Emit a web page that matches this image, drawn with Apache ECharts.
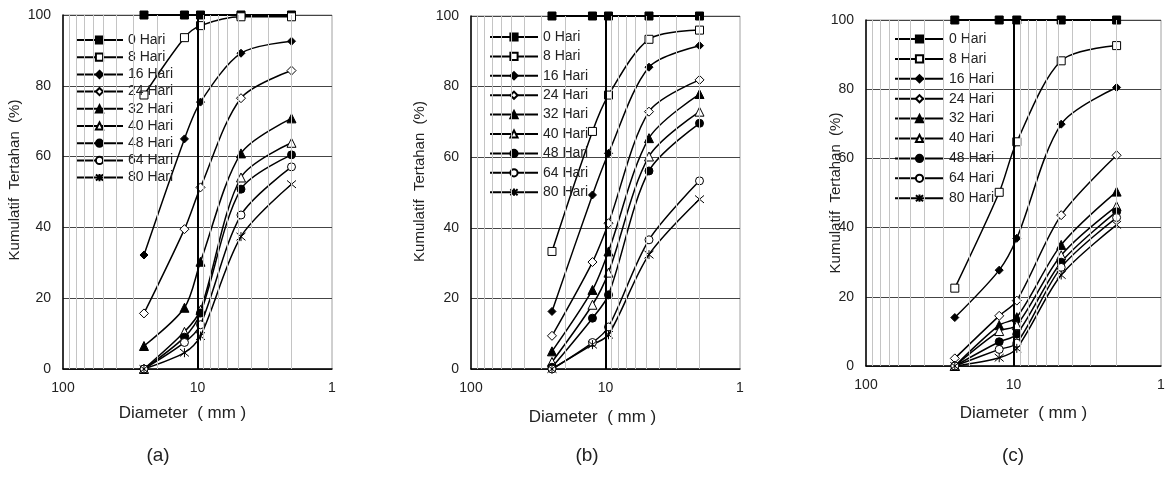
<!DOCTYPE html>
<html>
<head>
<meta charset="utf-8">
<script src="https://cdn.jsdelivr.net/npm/echarts@6/dist/echarts.min.js"></script>
<style>
  html, body { margin: 0; padding: 0; background: #fff; }
  #chart { width: 1173px; height: 485px; }
</style>
</head>
<body>
<div id="chart"></div>
<script>
// sieve sizes (mm), same for all three panels
const sieveSizes = [25, 12.5, 9.5, 4.75, 2];
const hariLabels = ['0 Hari', '8 Hari', '16 Hari', '24 Hari', '32 Hari', '40 Hari', '48 Hari', '64 Hari', '80 Hari'];
const panelLabels = ['(a)', '(b)', '(c)'];
const xTickLabels = [1, 10, 100];
const minorGridValues = [2, 3, 4, 5, 6, 7, 8, 9, 20, 30, 40, 50, 60, 70, 80, 90];

// kumulatif tertahan (%) per hari, one row per series
const retainedA = [
    [100, 100, 100, 100, 100],
    [77.4, 93.6, 97, 99.5, 99.5],
    [32.2, 65, 75.4, 89.2, 92.6],
    [15.7, 39.5, 51.3, 76.5, 84.3],
    [6.5, 17.3, 30.3, 60.9, 70.8],
    [0, 10.5, 16.7, 54.1, 63.9],
    [0, 9, 15.8, 50.8, 60.5],
    [0, 7.5, 12.5, 43.5, 57.1],
    [0, 4.6, 9.3, 37.4, 52.2]
];
const retainedB = [
    [100, 100, 100, 100, 100],
    [33.3, 67.3, 77.6, 93.4, 96],
    [16.3, 49.3, 61.1, 85.5, 91.6],
    [9.4, 30.3, 41.3, 72.9, 81.9],
    [5, 22.4, 33.3, 65.4, 77.9],
    [2, 18.2, 27.3, 60.2, 72.9],
    [0.5, 14.4, 21, 56.1, 69.6],
    [0, 7.5, 11.9, 36.6, 53.3],
    [0, 6.9, 9.7, 32.4, 48.1]
];
const retainedC = [
    [100, 100, 100, 100, 100],
    [22.5, 50.2, 64.8, 88.2, 92.6],
    [14, 27.7, 36.9, 69.9, 80.5],
    [2.2, 14.5, 18.9, 43.6, 60.9],
    [0, 11.8, 14.1, 35, 50.4],
    [0, 10.1, 11.8, 32, 46.2],
    [0, 7, 9.2, 30, 44.6],
    [0, 4.8, 6.6, 28.5, 42.9],
    [0, 2.4, 5.1, 26.3, 40.8]
];
const panelData = [retainedA, retainedB, retainedC];

const FONT = '"Liberation Sans", Arial, sans-serif';
const asterisk = 'path://M0,0L10,10M10,0L0,10M5,-1L5,11';
const markers = [
    { symbol: 'rect', size: 8, fill: '#000' },
    { symbol: 'rect', size: 8, fill: '#fff' },
    { symbol: 'diamond', size: 8, fill: '#000' },
    { symbol: 'diamond', size: 9, fill: '#fff' },
    { symbol: 'triangle', size: 9, fill: '#000' },
    { symbol: 'triangle', size: 9, fill: '#fff' },
    { symbol: 'circle', size: 8, fill: '#000' },
    { symbol: 'circle', size: 8, fill: '#fff' },
    { symbol: asterisk, size: 9, fill: 'none' }
];

const layout = [
    { left: 63, top: 15, width: 269, height: 354, legendLeft: 75, legendTop: 33, legendGap: 3.2, iconW: 47, yNameGap: 41, yPad: [0, 0, 0, 24], xNameGap: 36, xPad: [0, 30, 0, 0], labelX: 158 },
    { left: 471, top: 16, width: 269, height: 353, legendLeft: 489, legendTop: 30, legendGap: 5.4, iconW: 48, yNameGap: 44, yPad: [0, 0, 0, 22], xNameGap: 40, xPad: [0, 26, 0, 0], labelX: 587 },
    { left: 866, top: 20, width: 295, height: 346, legendLeft: 894, legendTop: 32, legendGap: 5.9, iconW: 49, yNameGap: 23, yPad: [0, 0, 0, 0], xNameGap: 39, xPad: [0, 0, 0, 20], labelX: 1013 }
];

const chart = echarts.init(document.getElementById('chart'));

const grid = [], xAxis = [], yAxis = [], legend = [], series = [], graphic = [];

layout.forEach((l, p) => {
    grid.push({
        left: l.left, top: l.top, width: l.width, height: l.height,
        show: true, borderColor: '#a0a0a0', borderWidth: 1, backgroundColor: 'transparent'
    });
    xAxis.push({
        gridIndex: p,
        type: 'log',
        logBase: 10,
        min: xTickLabels[0],
        max: xTickLabels[xTickLabels.length - 1],
        inverse: true,
        axisLine: { show: true, lineStyle: { color: '#000', width: 1.5 } },
        axisTick: { show: false },
        splitLine: { show: false },
        axisLabel: { fontFamily: FONT, fontSize: 14, color: '#222', margin: 12, showMinLabel: true, showMaxLabel: true },
        name: 'Diameter  ( mm )',
        nameLocation: 'middle',
        nameGap: l.xNameGap,
        nameMoveOverlap: false,
        nameTextStyle: { fontFamily: FONT, fontSize: 17, color: '#222', padding: l.xPad }
    });
    yAxis.push({
        gridIndex: p,
        type: 'value',
        min: 0,
        max: 100,
        interval: 20,
        axisLine: { show: true, lineStyle: { color: '#000', width: 1.5 } },
        axisTick: { show: false },
        splitLine: { show: true, lineStyle: { color: '#444', width: 1 } },
        axisLabel: { fontFamily: FONT, fontSize: 14, color: '#222', margin: 12 },
        name: 'Kumulatif  Tertahan  (%)',
        nameLocation: 'middle',
        nameRotate: 90,
        nameGap: l.yNameGap,
        nameMoveOverlap: false,
        nameTextStyle: { fontFamily: FONT, fontSize: 15, color: '#222', padding: l.yPad }
    });
    legend.push({
        orient: 'vertical',
        left: l.legendLeft,
        top: l.legendTop,
        padding: 0,
        itemGap: l.legendGap,
        itemWidth: l.iconW,
        itemHeight: 9,
        data: hariLabels,
        selectedMode: false,
        lineStyle: { color: '#000', width: 2, type: 'solid' },
        textStyle: { fontFamily: FONT, fontSize: 14, lineHeight: 14, color: '#222' }
    });

    // log-scale minor gridlines and the bold 10 mm line
    series.push({
        type: 'line',
        xAxisIndex: p,
        yAxisIndex: p,
        data: [],
        silent: true,
        z: 1,
        markLine: {
            silent: true,
            symbol: ['none', 'none'],
            label: { show: false },
            lineStyle: { color: '#c4c4c4', width: 1, type: 'solid' },
            data: minorGridValues.map(v => ({ xAxis: v }))
                .concat([{ xAxis: 10, lineStyle: { color: '#000', width: 2, type: 'solid' } }])
        }
    });

    panelData[p].forEach((values, i) => {
        const m = markers[i];
        series.push({
            name: hariLabels[i],
            type: 'line',
            xAxisIndex: p,
            yAxisIndex: p,
            z: 3,
            smooth: 0.3,
            symbol: m.symbol,
            symbolSize: m.size,
            showSymbol: true,
            lineStyle: { color: '#000', width: i === 0 ? 2 : 1.5 },
            itemStyle: { color: m.fill, borderColor: '#000', borderWidth: 1 },
            data: sieveSizes.map((d, k) => [d, values[k]])
        });
    });

    graphic.push({
        type: 'text',
        x: l.labelX,
        y: 456,
        style: {
            text: panelLabels[p],
            fontFamily: FONT,
            fontSize: 19,
            fill: '#222',
            align: 'center',
            verticalAlign: 'middle'
        }
    });
});

chart.setOption({
    animation: false,
    backgroundColor: '#fff',
    grid, xAxis, yAxis, legend, series, graphic
});
</script>
</body>
</html>
